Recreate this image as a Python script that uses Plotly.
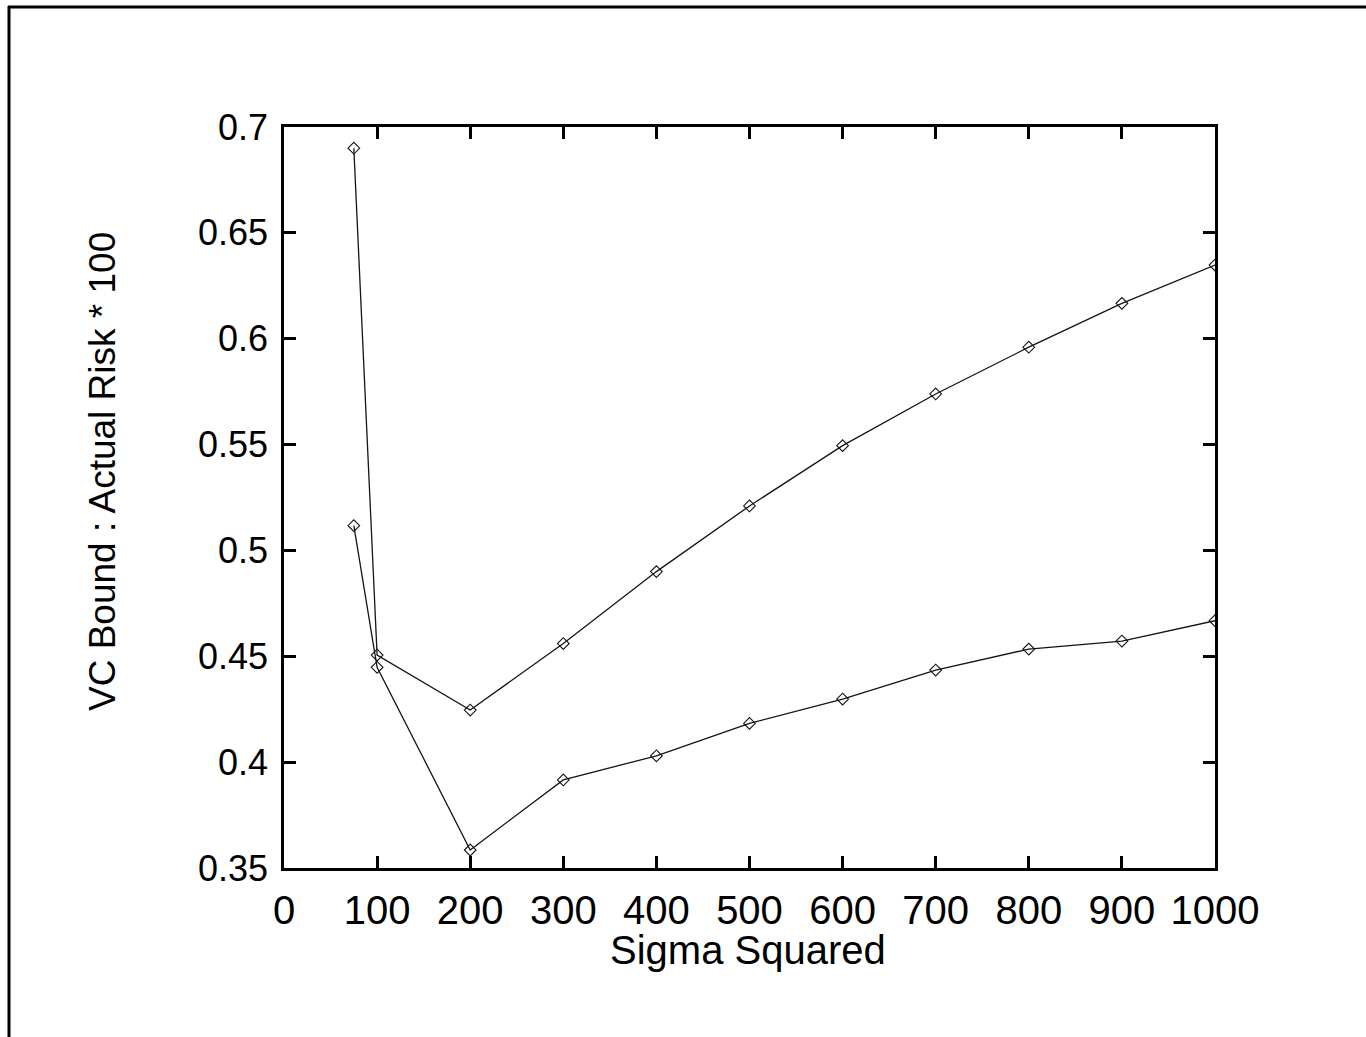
import plotly.graph_objects as go

# Sigma squared values and the VC-bound / actual-risk ratio (x100) for two runs
sigma_sq = [75, 100, 200, 300, 400, 500, 600, 700, 800, 900, 1000]
ratio_a = [0.690, 0.4506, 0.4246, 0.456, 0.490, 0.521, 0.5495, 0.5739, 0.596, 0.6167, 0.6348]
ratio_b = [0.5117, 0.4448, 0.3585, 0.3916, 0.403, 0.4183, 0.4298, 0.4435, 0.4534, 0.4572, 0.4668]

x_ticks = [0, 100, 200, 300, 400, 500, 600, 700, 800, 900, 1000]
y_ticks = [0.35, 0.4, 0.45, 0.5, 0.55, 0.6, 0.65, 0.7]
y_tick_text = ["0.35", "0.4", "0.45", "0.5", "0.55", "0.6", "0.65", "0.7"]

x_title = "Sigma Squared"
y_title = "VC Bound : Actual Risk * 100"

W, H = 1366, 1037
L, R, T, B = 284, 1215, 127, 868  # plot area in pixels

ink = "#141414"
font_family = "Liberation Sans, Arial, Helvetica, sans-serif"


def px_x(p):
    return (p - L) / (R - L)


def px_y(p):
    return (B - p) / (B - T)


fig = go.Figure()
for ys in (ratio_a, ratio_b):
    fig.add_trace(go.Scatter(
        x=sigma_sq, y=ys, mode="lines+markers",
        line=dict(color=ink, width=1.3),
        marker=dict(symbol="diamond-open", size=9, color=ink, line=dict(width=1.1, color=ink)),
        showlegend=False,
    ))

axis_common = dict(
    showgrid=False, zeroline=False, showline=True, linecolor="black", linewidth=2.5,
    mirror="ticks", ticks="inside", ticklen=12, tickwidth=2.5, tickcolor="black",
)

fig.update_xaxes(
    range=[0, 1000], tickvals=x_ticks, ticktext=[str(v) for v in x_ticks],
    tickfont=dict(family=font_family, size=40, color="black"),
    ticklabelstandoff=5,
    **axis_common,
)
fig.update_yaxes(
    range=[0.35, 0.7], tickvals=y_ticks, ticktext=y_tick_text,
    tickfont=dict(family=font_family, size=36, color="black"),
    ticklabelstandoff=6,
    **axis_common,
)

# Axis titles
fig.add_annotation(
    text=x_title, showarrow=False,
    xref="paper", yref="paper", x=px_x(748), y=px_y(950),
    xanchor="center", yanchor="middle",
    font=dict(family=font_family, size=40, color="black"),
)
fig.add_annotation(
    text=y_title, textangle=-90, showarrow=False,
    xref="paper", yref="paper", x=px_x(103), y=px_y(472),
    xanchor="center", yanchor="middle",
    font=dict(family=font_family, size=37, color="black"),
)

# Outer frame: top and left edges of the page
fig.add_shape(type="line", xref="paper", yref="paper",
              x0=px_x(8), x1=px_x(W + 5), y0=px_y(7), y1=px_y(7),
              line=dict(color="black", width=3))
fig.add_shape(type="line", xref="paper", yref="paper",
              x0=px_x(9), x1=px_x(9), y0=px_y(6), y1=px_y(H + 5),
              line=dict(color="black", width=3))

fig.update_layout(
    width=W, height=H,
    margin=dict(l=L, r=W - R, t=T, b=H - B),
    paper_bgcolor="white", plot_bgcolor="white",
    font=dict(family=font_family, color="black"),
)

fig.write_html("out.html")
